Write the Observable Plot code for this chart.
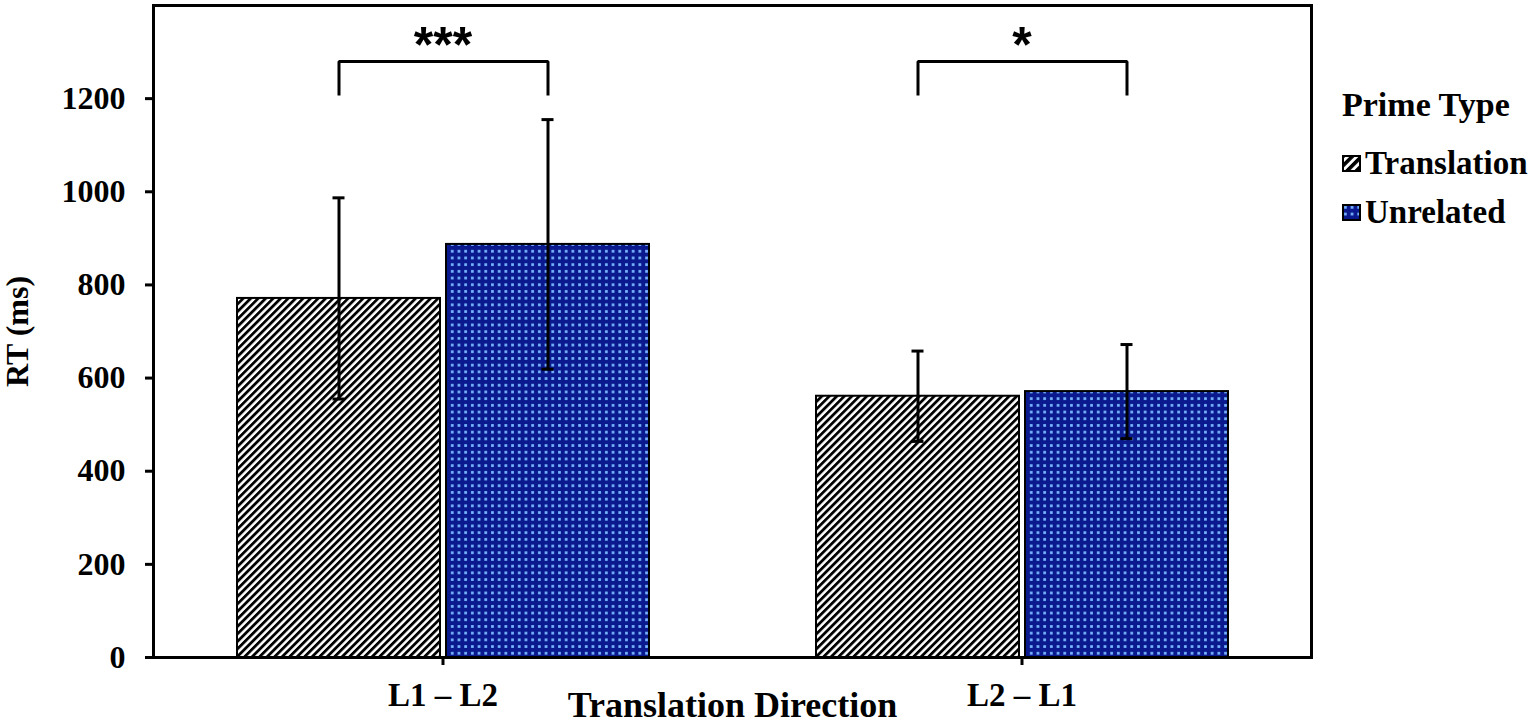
<!DOCTYPE html>
<html>
<head>
<meta charset="utf-8">
<script src="https://cdn.jsdelivr.net/npm/d3@7"></script>
<script src="https://cdn.jsdelivr.net/npm/@observablehq/plot@0.6"></script>
<style>
  html, body { margin: 0; padding: 0; background: #fff; }
  #wrap { position: relative; width: 1535px; height: 724px; overflow: hidden; font-family: "Liberation Serif", "Times New Roman", serif; }
  #chart { position: absolute; left: 0; top: 0; }
  .legend { position: absolute; font-weight: bold; color: #000; white-space: nowrap; }
  .legend-title { left: 1342px; top: 86px; font-size: 34px; }
  .legend-item { left: 1342px; font-size: 33px; display: flex; align-items: center; }
  .legend-item svg { margin-right: 4px; }
</style>
</head>
<body>
<svg width="0" height="0" style="position:absolute">
  <defs>
    <pattern id="hatch" patternUnits="userSpaceOnUse" width="5.3" height="5.3" patternTransform="rotate(45)">
      <rect x="0" y="0" width="5.3" height="5.3" fill="#ffffff"></rect>
      <rect x="0" y="0" width="2.8" height="5.3" fill="#000000"></rect>
    </pattern>
    <pattern id="hatchBig" patternUnits="userSpaceOnUse" width="6.5" height="6.5" patternTransform="rotate(45)">
      <rect x="0" y="0" width="6.5" height="6.5" fill="#ffffff"></rect>
      <rect x="0" y="0" width="3.6" height="6.5" fill="#000000"></rect>
    </pattern>
    <pattern id="dots" patternUnits="userSpaceOnUse" width="6.7" height="6.7">
      <rect x="0" y="0" width="6.7" height="6.7" fill="#0a1a8e"></rect>
      <rect x="2" y="2" width="2.7" height="2.7" fill="#7ab8ff"></rect>
    </pattern>
  </defs>
</svg>
<div id="wrap">
  <div id="chart"></div>
  <div class="legend legend-title">Prime Type</div>
  <div class="legend legend-item" id="leg0" style="top:145px"></div>
  <div class="legend legend-item" id="leg1" style="top:194px"></div>
</div>
<script>
// ---- data ----
const directions = ["L1 – L2", "L2 – L1"];
const primeTypes = ["Translation", "Unrelated"];
const meanRT = [[771, 887], [561, 571]];   // rows: direction, cols: prime type
const sdRT = [[216, 268], [97, 101]];
const yTicks = [0, 200, 400, 600, 800, 1000, 1200];
const sigLabels = ["***", "*"];
const bracketTop = 1280;
const bracketEnd = 1207;
const sigY = 1312;
const fills = ["url(#hatch)", "url(#dots)"];
const legendFills = ["url(#hatchBig)", "url(#dots)"];

// ---- tables built from arrays ----
const rows = directions.flatMap((d, i) => primeTypes.map((p, j) => ({
  direction: d, prime: p, mean: meanRT[i][j], lo: meanRT[i][j] - sdRT[i][j], hi: meanRT[i][j] + sdRT[i][j]
})));
const brackets = directions.flatMap((d) => [
  {direction: d, prime: primeTypes[0], y: bracketEnd},
  {direction: d, prime: primeTypes[0], y: bracketTop},
  {direction: d, prime: primeTypes[1], y: bracketTop},
  {direction: d, prime: primeTypes[1], y: bracketEnd}
]);
const sigs = directions.map((d, i) => ({direction: d, label: sigLabels[i], y: sigY}));

const font = "Liberation Serif";

const chart = Plot.plot({
  width: 1320,
  height: 724,
  marginLeft: 153,
  marginRight: 9,
  marginTop: 5,
  marginBottom: 67,
  style: {fontFamily: font, fontWeight: "bold", fontSize: "32px", color: "#000", background: "transparent", overflow: "visible"},
  fx: {domain: directions, paddingInner: 0, paddingOuter: 0, axis: null},
  x: {domain: primeTypes, paddingInner: 0.029, paddingOuter: 0.395, axis: null},
  y: {domain: [0, 1400], axis: null},
  marks: [
    Plot.barY(rows, {fx: "direction", x: "prime", y: "mean", fill: (d) => fills[primeTypes.indexOf(d.prime)], stroke: "#000", strokeWidth: 2}),
    Plot.ruleX(rows, {fx: "direction", x: "prime", y1: "lo", y2: "hi", stroke: "#000", strokeWidth: 3}),
    Plot.tickY(rows, {fx: "direction", x: "prime", y: "hi", stroke: "#000", strokeWidth: 3, insetLeft: 95.5, insetRight: 95.5}),
    Plot.tickY(rows, {fx: "direction", x: "prime", y: "lo", stroke: "#000", strokeWidth: 3, insetLeft: 95.5, insetRight: 95.5}),
    Plot.line(brackets, {fx: "direction", x: "prime", y: "y", z: "direction", stroke: "#000", strokeWidth: 3, strokeLinejoin: "miter", strokeLinecap: "butt"}),
    Plot.text(sigs, {fx: "direction", y: "y", text: "label", fontFamily: "Liberation Sans", fontWeight: "bold", fontSize: 50, lineAnchor: "middle"}),
    Plot.ruleY([0], {stroke: "#000", strokeWidth: 3}),
    Plot.ruleY([1400], {stroke: "#000", strokeWidth: 2}),
    Plot.axisY({ticks: yTicks, tickFormat: (d) => String(d), tickSize: 8, tickPadding: 20, strokeWidth: 3, fontSize: 32, fontWeight: "bold", fontFamily: font,
      label: "RT (ms)", labelAnchor: "center", labelOffset: 148, labelArrow: "none"}),
    Plot.axisFx({anchor: "bottom", tickSize: 8, tickPadding: 17, strokeWidth: 3, fontSize: 33, fontWeight: "bold", fontFamily: font,
      label: null}),
    Plot.axisFx({anchor: "bottom", tickSize: 0, ticks: [], fontSize: 36, fontWeight: "bold", fontFamily: font,
      label: "Translation Direction", labelAnchor: "center", labelOffset: 59, labelArrow: "none"}),
    Plot.frame({stroke: "#000", strokeWidth: 3, facet: "super"})
  ]
});
document.getElementById("chart").appendChild(chart);

// ---- legend ----
primeTypes.forEach((p, i) => {
  const el = document.getElementById("leg" + i);
  el.innerHTML = `<svg width="19" height="17"><rect x="1" y="1" width="17" height="15" fill="${legendFills[i]}" stroke="#000" stroke-width="2"></rect></svg><span>${p}</span>`;
});
</script>
</body>
</html>
